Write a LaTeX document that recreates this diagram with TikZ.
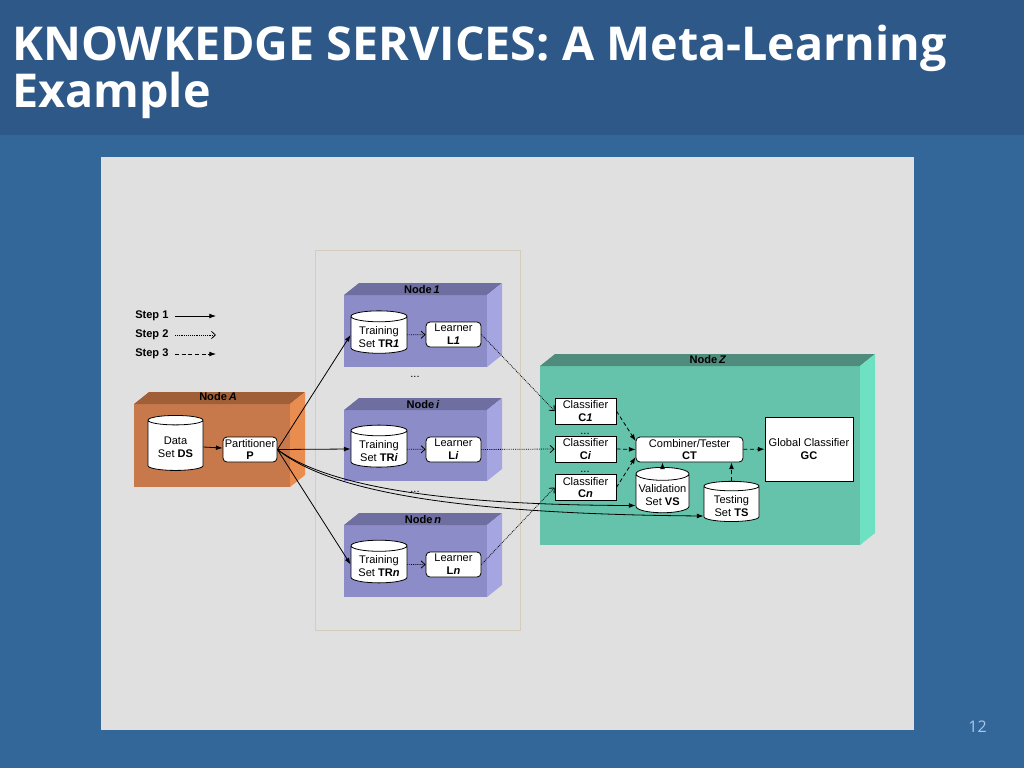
\documentclass[tikz,border=0pt]{standalone}
\usepackage{fontspec}
\setmainfont{Liberation Sans}
\newfontfamily\titlefont{Open Sans}
\usetikzlibrary{shapes.geometric,arrows.meta}
\definecolor{bgblue}{RGB}{51,102,153}
\definecolor{titleblue}{RGB}{45,88,135}
\definecolor{panel}{RGB}{224,224,224}
\definecolor{frameline}{RGB}{214,204,190}
\definecolor{afront}{RGB}{200,121,75}
\definecolor{atop}{RGB}{160,95,55}
\definecolor{aside}{RGB}{232,140,80}
\definecolor{nfront}{RGB}{140,140,200}
\definecolor{ntop}{RGB}{110,110,160}
\definecolor{nside}{RGB}{165,165,225}
\definecolor{zfront}{RGB}{100,195,170}
\definecolor{ztop}{RGB}{80,140,125}
\definecolor{zside}{RGB}{110,225,195}
\definecolor{numcol}{RGB}{170,200,230}
\newcommand{\diagfont}{\fontsize{8.3}{9.6}\selectfont}
\newcommand{\cyltext}[1]{\raisebox{-2.4pt}[\height][\depth]{\begin{tabular}{@{}c@{}}#1\end{tabular}}}
\newcommand{\threedbox}[7]{%
  \fill[#5] (#1,#2) rectangle (#3,#4);
  \fill[#6] (#1,#2) -- (#1+15,#2-12) -- (#3+15,#2-12) -- (#3,#2) -- cycle;
  \fill[#7] (#3,#2) -- (#3+15,#2-12) -- (#3+15,#4-12) -- (#3,#4) -- cycle;
}
\tikzset{
  cyl/.style={cylinder, shape border rotate=90, aspect=0.27, draw, fill=white,
    align=center, inner sep=0pt, font=\diagfont, line width=0.6pt},
  rbox/.style={draw, fill=white, rounded corners=3pt, align=center, inner sep=0pt,
    font=\diagfont, line width=0.6pt},
  sbox/.style={draw, fill=white, align=center, inner sep=0pt, font=\diagfont, line width=0.6pt},
  lbl/.style={font=\diagfont\bfseries, inner sep=0pt},
  dots/.style={font=\diagfont, inner sep=0pt, anchor=base},
  titletext/.style={anchor=base west, inner sep=0pt, text=white,
    font=\titlefont\bfseries\fontsize{35}{38}\selectfont},
  solidarrow/.style={line width=0.6pt, -{Latex[length=5pt,width=3.6pt]}},
  dotarrow/.style={line width=0.6pt, dash pattern=on 0.6pt off 0.8pt,
    -{Straight Barb[length=3pt,width=5.5pt]}},
  dasharrow/.style={line width=0.6pt, dash pattern=on 3pt off 2pt,
    -{Latex[length=5pt,width=3.6pt]}},
}
\begin{document}
\begin{tikzpicture}[x=0.75pt,y=-0.75pt]
\useasboundingbox (0,0) rectangle (1024,768);
\fill[bgblue] (0,0) rectangle (1024,768);
\fill[titleblue] (0,0) rectangle (1024,135);
\fill[panel] (101,157) rectangle (914,730);
\node[titletext] (title1) at (12,60) {KNOWKEDGE SERVICES: A Meta-Learning};
\node[titletext] (title2) at (12,107) {Example};
\node[anchor=base east, inner sep=0pt, text=numcol, font=\titlefont\fontsize{12}{14}\selectfont] (pagenum) at (987,732) {12};

% inner frame
\draw[frameline, line width=0.6pt] (315,250) rectangle (520,630);

% legend
\node[lbl, anchor=west] (st1) at (135,316) {Step 1};
\node[lbl, anchor=west] (st2) at (135,335) {Step 2};
\node[lbl, anchor=west] (st3) at (135,354) {Step 3};
\coordinate (s1a) at (175,316); \coordinate (s1b) at (216,316);
\coordinate (s2a) at (175,335); \coordinate (s2b) at (216,335);
\coordinate (s3a) at (175,354); \coordinate (s3b) at (216,354);
\draw[solidarrow] (s1a) -- (s1b);
\draw[dotarrow] (s2a) -- (s2b);
\draw[dasharrow] (s3a) -- (s3b);

% boxes
\threedbox{134}{404}{290}{487}{afront}{atop}{aside}
\threedbox{344}{295}{487}{367}{nfront}{ntop}{nside}
\threedbox{344}{410}{487}{481}{nfront}{ntop}{nside}
\threedbox{344}{525}{487}{597}{nfront}{ntop}{nside}
\threedbox{540}{366}{860}{545}{zfront}{ztop}{zside}

\node[lbl] (labA) at (218,397) {Node\,\textit{A}};
\node[lbl] (lab1) at (422,290) {Node\,\textit{1}};
\node[lbl] (labi) at (423,405) {Node\,\textit{i}};
\node[lbl] (labn) at (423,520) {Node\,\textit{n}};
\node[lbl] (labZ) at (708,360) {Node\,\textit{Z}};

\node[dots] (d1) at (415,377) {...};
\node[dots] (d2) at (415,492) {...};
\node[dots] (d3) at (585,434) {...};
\node[dots] (d4) at (585,472) {...};

% Node A content
\node[cyl, minimum width=41.25pt, minimum height=41.25pt] (DS) at (175.5,445.5) {\cyltext{Data\\Set \textbf{DS}}};
\node[rbox, minimum width=40.5pt, minimum height=18.75pt] (P) at (250,449.5) {Partitioner\\\textbf{P}};

% learners
\node[cyl, minimum width=42pt, minimum height=27pt] (TR1) at (379,335) {\cyltext{Training\\Set \textbf{TR\textit{1}}}};
\node[rbox, minimum width=41.25pt, minimum height=18.75pt] (L1) at (453.5,334.5) {Learner\\\textbf{L\textit{1}}};
\node[cyl, minimum width=42pt, minimum height=27pt] (TRi) at (379,449) {\cyltext{Training\\Set \textbf{TR\textit{i}}}};
\node[rbox, minimum width=41.25pt, minimum height=18.75pt] (Li) at (453.5,449.5) {Learner\\\textbf{L\textit{i}}};
\node[cyl, minimum width=42pt, minimum height=27pt] (TRn) at (379,564.5) {\cyltext{Training\\Set \textbf{TR\textit{n}}}};
\node[rbox, minimum width=41.25pt, minimum height=18.75pt] (Ln) at (453.5,564.5) {Learner\\\textbf{L\textit{n}}};

% Node Z content
\node[sbox, minimum width=45.75pt, minimum height=19.5pt] (C1) at (585.5,411) {Classifier\\\textbf{C\textit{1}}};
\node[sbox, minimum width=45.75pt, minimum height=19.5pt] (Ci) at (585.5,449) {Classifier\\\textbf{C\textit{i}}};
\node[sbox, minimum width=45.75pt, minimum height=19.5pt] (Cn) at (585.5,487.5) {Classifier\\\textbf{C\textit{n}}};
\node[rbox, minimum width=80.25pt, minimum height=18.75pt] (CT) at (689.5,449.5) {Combiner/Tester\\\textbf{CT}};
\node[sbox, minimum width=66pt, minimum height=48pt] (GC) at (809,449) {Global Classifier\\\textbf{GC}};
\node[cyl, minimum width=39.75pt, minimum height=27.75pt] (VS) at (662.5,493.5) {\cyltext{Validation\\Set \textbf{VS}}};
\node[cyl, minimum width=41.25pt, minimum height=28.5pt] (TS) at (731.5,504) {\cyltext{Testing\\Set \textbf{TS}}};

% step 1 connectors
\draw[solidarrow] (DS) -- (P);
\draw[solidarrow] (P.east) -- (TR1.west);
\draw[solidarrow] (P.east) -- (TRi.west);
\draw[solidarrow] (P.east) -- (TRn.west);
\draw[solidarrow] (P.east) .. controls (330,488) and (450,505) .. ([yshift=-9pt]VS.west);
\draw[solidarrow] (P.east) .. controls (330,492) and (460,514) .. ([yshift=-9pt]TS.west);

% step 2 connectors
\draw[dotarrow] (TR1) -- (L1);
\draw[dotarrow] (TRi) -- (Li);
\draw[dotarrow] (TRn) -- (Ln);
\draw[dotarrow] (L1.east) -- (C1.west);
\draw[dotarrow] (Li.east) -- (Ci.west);
\draw[dotarrow] (Ln.east) -- (Cn.west);

% step 3 connectors
\draw[dasharrow] (C1.east) -- (CT.west |- 0,441);
\draw[dasharrow] (Ci.east) -- (CT.west);
\draw[dasharrow] (Cn.east) -- (CT.west |- 0,457);
\draw[dasharrow] (CT) -- (GC);
\draw[dasharrow] (VS.top) -- (VS.top |- CT.south);
\draw[dasharrow] (TS.top) -- (TS.top |- CT.south);
\end{tikzpicture}
\end{document}
